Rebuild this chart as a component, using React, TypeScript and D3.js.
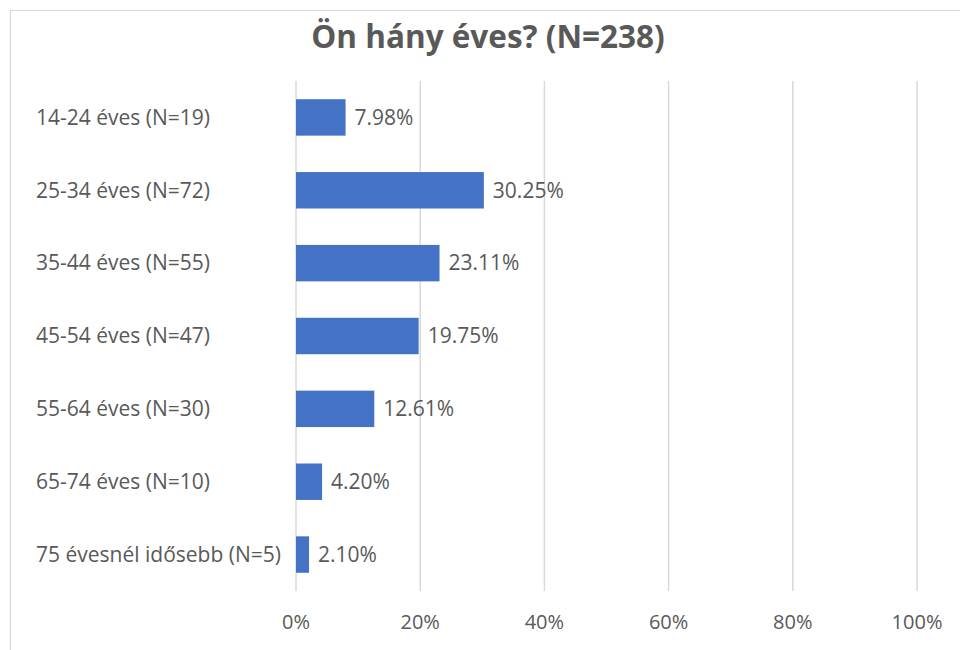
import React, { useEffect, useRef } from "react";
import * as d3 from "d3";

const categories = [
  "14-24 éves (N=19)",
  "25-34 éves (N=72)",
  "35-44 éves (N=55)",
  "45-54 éves (N=47)",
  "55-64 éves (N=30)",
  "65-74 éves (N=10)",
  "75 évesnél idősebb (N=5)",
];
const shares = [7.98, 30.25, 23.11, 19.75, 12.61, 4.2, 2.1];
const tickValues = [0, 20, 40, 60, 80, 100];
const title = "Ön hány éves? (N=238)";

const App: React.FC = () => {
  const svgRef = useRef<SVGSVGElement>(null);

  useEffect(() => {
    if (!svgRef.current) return;
    const root = d3.select(svgRef.current);
    root.selectAll("*").remove();

    const width = 960;
    const height = 650;
    const margin = { top: 81, right: 43, bottom: 59, left: 296 };
    const font = "'Open Sans', sans-serif";
    const textColor = "#595959";
    const labelSize = "21px";

    root.attr("width", width).attr("height", height);

    root
      .append("rect")
      .attr("x", 0)
      .attr("y", 0)
      .attr("width", width)
      .attr("height", height)
      .attr("fill", "#fff");

    // chart frame (top + left edges visible)
    root
      .append("path")
      .attr("d", `M10.5,${height} V10.5 H${width}`)
      .attr("fill", "none")
      .attr("stroke", "#d9d9d9")
      .attr("stroke-width", 1.2);

    root
      .append("text")
      .attr("x", 488)
      .attr("y", 48)
      .attr("text-anchor", "middle")
      .style("font-family", font)
      .style("font-size", "31.5px")
      .style("font-weight", "bold")
      .attr("fill", textColor)
      .text(title);

    const innerW = width - margin.left - margin.right;
    const innerH = height - margin.top - margin.bottom;

    const g = root
      .append("g")
      .attr("transform", `translate(${margin.left},${margin.top})`);

    const x = d3.scaleLinear().domain([0, 100]).range([0, innerW]);
    const y = d3
      .scaleBand()
      .domain(categories)
      .range([0, innerH])
      .paddingInner(0.5)
      .paddingOuter(0.25);

    g.selectAll(".grid")
      .data(tickValues)
      .enter()
      .append("line")
      .attr("x1", (d) => x(d))
      .attr("x2", (d) => x(d))
      .attr("y1", 0)
      .attr("y2", innerH)
      .attr("stroke", "#d9d9d9")
      .attr("stroke-width", 1.5);

    g.selectAll(".tick-label")
      .data(tickValues)
      .enter()
      .append("text")
      .attr("x", (d) => x(d))
      .attr("y", innerH + 31)
      .attr("dy", ".35em")
      .attr("text-anchor", "middle")
      .style("font-family", font)
      .style("font-size", "20px")
      .attr("fill", textColor)
      .text((d) => `${d}%`);

    g.selectAll(".bar")
      .data(shares)
      .enter()
      .append("rect")
      .attr("x", x(0))
      .attr("y", (_, i) => y(categories[i])!)
      .attr("width", (d) => x(d) - x(0))
      .attr("height", y.bandwidth())
      .attr("fill", "#4472c4");

    g.selectAll(".value-label")
      .data(shares)
      .enter()
      .append("text")
      .attr("x", (d) => x(d) + 9)
      .attr("y", (_, i) => y(categories[i])! + y.bandwidth() / 2)
      .attr("dy", ".35em")
      .style("font-family", font)
      .style("font-size", labelSize)
      .attr("fill", textColor)
      .text((d) => `${d.toFixed(2)}%`);

    g.selectAll(".cat-label")
      .data(categories)
      .enter()
      .append("text")
      .attr("x", 36 - margin.left)
      .attr("y", (d) => y(d)! + y.bandwidth() / 2)
      .attr("dy", ".35em")
      .style("font-family", font)
      .style("font-size", labelSize)
      .attr("fill", textColor)
      .text((d) => d);
  }, []);

  return (
    <svg
      ref={svgRef}
      style={{ position: "absolute", left: 0, top: 0, display: "block" }}
    />
  );
};

export default App;
